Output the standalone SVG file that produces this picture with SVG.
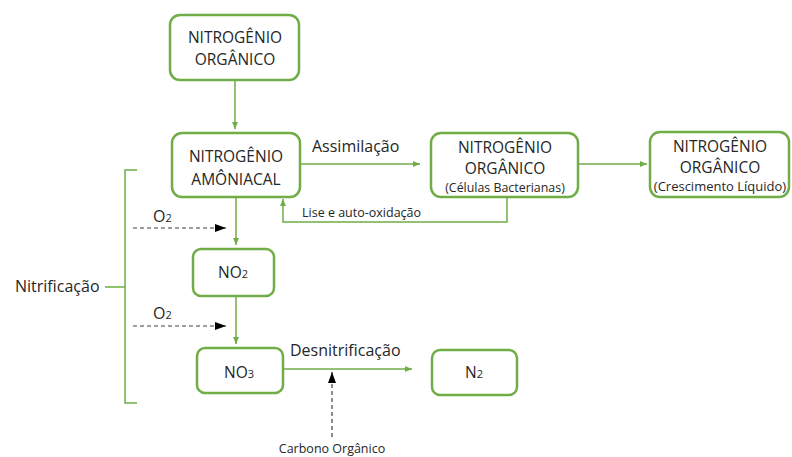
<svg xmlns="http://www.w3.org/2000/svg" width="792" height="457" viewBox="0 0 792 457">
  <defs>
    <marker id="ah-green" markerWidth="8" markerHeight="8" refX="7" refY="4" orient="auto" markerUnits="userSpaceOnUse">
      <path d="M0,1 L7,4 L0,7 Z" fill="#70ad47"/>
    </marker>
    <marker id="ah-black" markerWidth="12" markerHeight="10" refX="11" refY="5" orient="auto" markerUnits="userSpaceOnUse">
      <path d="M0,1 L11,5 L0,9 Z" fill="#000"/>
    </marker>
    <style>
      .box { fill: #fff; stroke: #70ad47; stroke-width: 2.5; }
      .flow { fill: none; stroke: #70ad47; stroke-width: 1.5; marker-end: url(#ah-green); }
      .line { fill: none; stroke: #70ad47; stroke-width: 1.5; }
      .dash { fill: none; stroke: #404040; stroke-width: 1.2; stroke-dasharray: 4 3; marker-end: url(#ah-black); }
      text { font-family: "Open Sans", "Noto Sans", sans-serif; fill: #262626; }
      .t { font-size: 15.5px; text-anchor: middle; }
      .s { font-size: 12.4px; text-anchor: middle; }
      .lbl { font-size: 16px; }
      .sm { font-size: 12.5px; }
      .sub { font-size: 11px; }
    </style>
  </defs>

  <!-- process connectors -->
  <g id="connectors">
    <path class="flow" d="M235,80 V129"/>
    <path class="flow" d="M300,164 H420"/>
    <path class="flow" d="M578,164 H647"/>
    <path class="flow" d="M507,197 V222 H283 V199"/>
    <path class="flow" d="M236,197 V245"/>
    <path class="flow" d="M236,296 V344"/>
    <path class="flow" d="M283,369 H412"/>
    <path class="dash" d="M133,228 H226"/>
    <path class="dash" d="M133,326 H226"/>
    <path class="dash" d="M332,437 V372"/>
    <!-- nitrification brace -->
    <path class="line" d="M137,170 H125 V287 H105 M125,287 V403 H137"/>
  </g>

  <g id="organic-n">
    <rect class="box" x="170" y="15" width="129" height="65" rx="10"/>
    <text class="t" x="235" y="43">NITROGÊNIO</text>
    <text class="t" x="235" y="65">ORGÂNICO</text>
  </g>

  <g id="ammonia-n">
    <rect class="box" x="172" y="133" width="128" height="64" rx="10"/>
    <text class="t" x="236" y="162">NITROGÊNIO</text>
    <text class="t" x="236" y="185">AMÔNIACAL</text>
  </g>

  <g id="organic-cells">
    <rect class="box" x="431" y="133" width="147" height="64" rx="10"/>
    <text class="t" x="505" y="153">NITROGÊNIO</text>
    <text class="t" x="505" y="174">ORGÂNICO</text>
    <text class="s" x="505" y="192">(Células Bacterianas)</text>
  </g>

  <g id="organic-growth">
    <rect class="box" x="650" y="132" width="139" height="65" rx="10"/>
    <text class="t" x="720" y="152">NITROGÊNIO</text>
    <text class="t" x="720" y="173">ORGÂNICO</text>
    <text class="s" x="720" y="191" style="font-size:13px">(Crescimento Líquido)</text>
  </g>

  <g id="no2">
    <rect class="box" x="193" y="249" width="81" height="47" rx="8"/>
    <text class="t" x="233" y="278">NO<tspan class="sub">2</tspan></text>
  </g>

  <g id="no3">
    <rect class="box" x="197" y="348" width="86" height="45" rx="8"/>
    <text class="t" x="239" y="378">NO<tspan class="sub">3</tspan></text>
  </g>

  <g id="n2">
    <rect class="box" x="432" y="350" width="85" height="45" rx="8"/>
    <text class="t" x="474" y="378">N<tspan class="sub">2</tspan></text>
  </g>

  <g id="labels">
    <text class="lbl" x="312" y="152">Assimilação</text>
    <text class="sm" x="302" y="217">Lise e auto-oxidação</text>
    <text class="lbl" x="15" y="292">Nitrificação</text>
    <text class="lbl" x="153" y="222">O<tspan class="sub">2</tspan></text>
    <text class="lbl" x="153" y="319">O<tspan class="sub">2</tspan></text>
    <text class="lbl" x="290" y="356">Desnitrificação</text>
    <text class="sm" x="332" y="453" text-anchor="middle">Carbono Orgânico</text>
  </g>
</svg>
